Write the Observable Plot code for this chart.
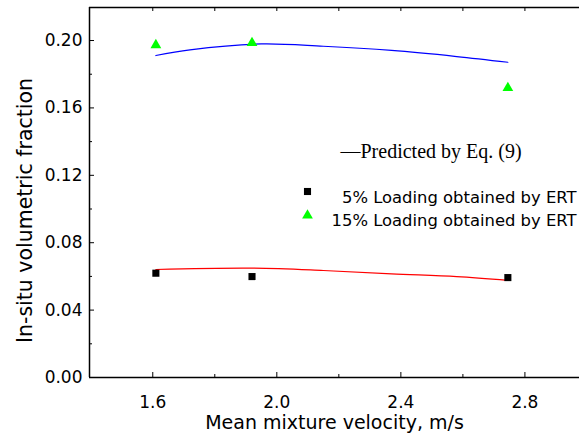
<!DOCTYPE html>
<html><head><meta charset="utf-8">
<script src="https://cdn.jsdelivr.net/npm/d3@7"></script>
<script src="https://cdn.jsdelivr.net/npm/@observablehq/plot@0.6"></script>
<style>body{margin:0;background:#fff}</style>
</head><body><div id="chart"></div>
<script>
// ---- data ----
const velocity = [1.61, 1.92, 2.745];
const ert5 = [0.0619, 0.0599, 0.0593];
const ert15 = [0.1973, 0.1986, 0.1719];
const predVel = [1.61, 1.72, 1.95, 2.15, 2.37, 2.58, 2.745];
const pred15 = [0.1911, 0.1945, 0.1980, 0.1966, 0.1941, 0.1905, 0.1871];
const predVel5 = [1.61, 1.92, 2.15, 2.37, 2.58, 2.745];
const pred5 = [0.0641, 0.0649, 0.0635, 0.0615, 0.0599, 0.0577];
const xDomain = [1.396, 2.976];
const yDomain = [0, 0.2196];
const xTicks = [1.6, 2.0, 2.4, 2.8];
const xMinor = [1.8, 2.2, 2.6];
const xTop = [1.6, 1.8, 2.0, 2.2, 2.4, 2.6, 2.8];
const yTicks = [0, 0.04, 0.08, 0.12, 0.16, 0.20];
const yMinor = [0.02, 0.06, 0.10, 0.14, 0.18];
const xTitle = "Mean mixture velocity, m/s";
const yTitle = "In-situ volumetric fraction";
const legendLine = "—Predicted by Eq. (9)";
const legend5 = "5% Loading obtained by ERT";
const legend15 = "15% Loading obtained by ERT";

const pts5 = velocity.map((v, i) => ({v, f: ert5[i]}));
const pts15 = velocity.map((v, i) => ({v, f: ert15[i]}));
const line15 = predVel.map((v, i) => ({v, f: pred15[i]}));
const line5 = predVel5.map((v, i) => ({v, f: pred5[i]}));

const chart = Plot.plot({
  width: 579, height: 442,
  marginLeft: 89, marginRight: 0, marginTop: 7, marginBottom: 65,
  style: {fontFamily: "DejaVu Sans", fontSize: "17px", color: "black", background: "white"},
  x: {domain: xDomain},
  y: {domain: yDomain},
  marks: [
    Plot.axisX(xTicks, {anchor: "bottom", tickSize: -5, tickPadding: 23, tickFormat: d3.format(".1f"), label: null, fontSize: 17}),
    Plot.axisX(xMinor, {anchor: "bottom", tickSize: -3, tickFormat: () => "", label: null}),
    Plot.axisX(xTop, {anchor: "top", tickSize: -3, tickFormat: () => "", label: null}),
    Plot.axisY(yTicks, {anchor: "left", tickSize: -5, tickPadding: 12, tickFormat: d3.format(".2f"), label: null, fontSize: 17}),
    Plot.axisY(yMinor, {anchor: "left", tickSize: -3, tickFormat: () => "", label: null}),
    Plot.ruleY([yDomain[0]], {stroke: "black", strokeWidth: 1.5}),
    Plot.ruleY([yDomain[1]], {stroke: "black", strokeWidth: 1.5}),
    Plot.ruleX([xDomain[0]], {stroke: "black", strokeWidth: 1.5}),
    Plot.line(line15, {x: "v", y: "f", stroke: "#0000ff", strokeWidth: 1.2, curve: "catmull-rom"}),
    Plot.line(line5, {x: "v", y: "f", stroke: "#ff0000", strokeWidth: 1.2, curve: "catmull-rom"}),
    Plot.dot(pts15, {x: "v", y: "f", symbol: "triangle", fill: "#00ff00", r: 4}),
    Plot.dot(pts5, {x: "v", y: "f", symbol: "square", fill: "black", r: 4}),
    // axis titles
    Plot.text([xTitle], {text: d => d, frameAnchor: "bottom", dy: 51, fontSize: 19}),
    Plot.text([yTitle], {text: d => d, frameAnchor: "left", textAnchor: "middle", rotate: -90, dx: -64, dy: 18, fontSize: 20.5}),
    // legend
    Plot.text([legendLine], {text: d => d, frameAnchor: "top-left", textAnchor: "start", dx: 251, dy: 136, fontFamily: "Liberation Serif", fontSize: 20}),
    Plot.dot([0], {frameAnchor: "top-left", dx: 218, dy: 184, symbol: "square", fill: "black", r: 4}),
    Plot.text([legend5], {text: d => d, frameAnchor: "top-left", textAnchor: "end", dx: 487, dy: 184, fontSize: 16.4}),
    Plot.dot([0], {frameAnchor: "top-left", dx: 218, dy: 208, symbol: "triangle", fill: "#00ff00", r: 4}),
    Plot.text([legend15], {text: d => d, frameAnchor: "top-left", textAnchor: "end", dx: 487, dy: 207, fontSize: 16.4})
  ]
});
document.getElementById("chart").appendChild(chart);
</script>
</body></html>
